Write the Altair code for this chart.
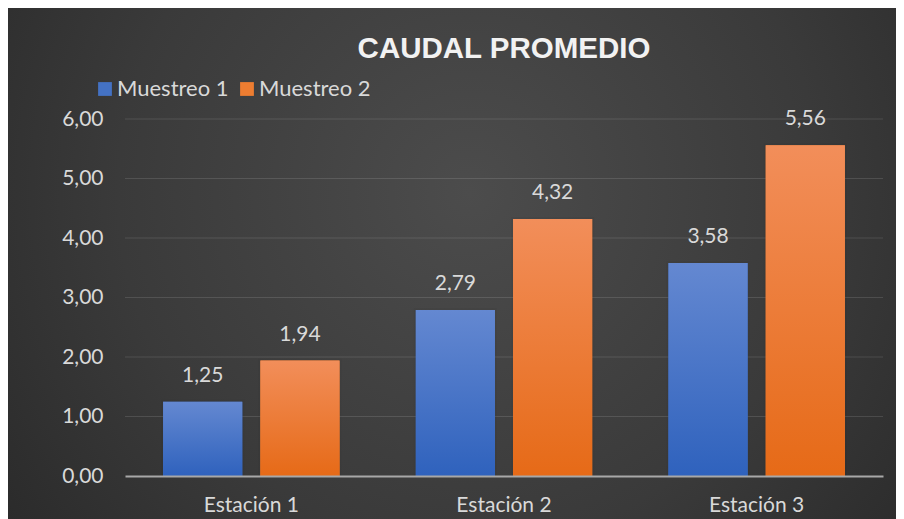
import altair as alt
import pandas as pd

estaciones = ["Estación 1", "Estación 2", "Estación 3"]
series = ["Muestreo 1", "Muestreo 2"]
muestreo1 = [1.25, 2.79, 3.58]
muestreo2 = [1.94, 4.32, 5.56]
y_ticks = [1, 2, 3, 4, 5, 6]

rows = []
for i, e in enumerate(estaciones):
    rows.append({"estacion": e, "serie": series[0], "valor": muestreo1[i]})
    rows.append({"estacion": e, "serie": series[1], "valor": muestreo2[i]})
df = pd.DataFrame(rows)
grid_df = pd.DataFrame({"v": y_ticks})
bg_df = pd.DataFrame({"a": [0]})

PW, PH = 758, 357
PAD = {"left": 117, "top": 111, "right": 13, "bottom": 43}
FONT = "Lato"
LABEL = "#d9d9d9"

fmt_expr = "replace(format(datum.value, '.2f'), '.', ',')"

bg_grad = alt.Gradient(
    gradient="radial",
    stops=[alt.GradientStop(color="#4c4c4c", offset=0),
           alt.GradientStop(color="#3a3a3a", offset=0.55),
           alt.GradientStop(color="#262626", offset=1)],
    x1=0.52, y1=0.42, r1=0, x2=0.52, y2=0.42, r2=0.72,
)
blue_grad = {"gradient": "linear", "x1": 0, "y1": 0, "x2": 0, "y2": 1,
             "stops": [{"offset": 0, "color": "#6488d1"}, {"offset": 1, "color": "#2f62bd"}]}
orange_grad = {"gradient": "linear", "x1": 0, "y1": 0, "x2": 0, "y2": 1,
               "stops": [{"offset": 0, "color": "#f28e5a"}, {"offset": 1, "color": "#e66a17"}]}

background = alt.Chart(bg_df).mark_rect(fill=bg_grad).encode(
    x=alt.value(-PAD["left"]), x2=alt.value(PW + PAD["right"]),
    y=alt.value(-PAD["top"]), y2=alt.value(PH + PAD["bottom"]),
)

yscale = alt.Scale(domain=[0, 6])

grid = alt.Chart(grid_df).mark_rule(color="#ffffff", opacity=0.12, strokeWidth=1).encode(
    y=alt.Y("v:Q", scale=yscale),
)

x_enc = alt.X(
    "estacion:N", sort=estaciones, title=None,
    scale=alt.Scale(paddingInner=0, paddingOuter=0),
    axis=alt.Axis(labelAngle=0, ticks=False, domain=True, domainColor="#a8a8a8",
                  domainWidth=2, grid=False, labelFont=FONT, labelFontSize=21,
                  labelColor=LABEL, labelPadding=18, zindex=1),
)
xoff_enc = alt.XOffset("serie:N", sort=series,
                       scale=alt.Scale(paddingInner=0.186, paddingOuter=0.392))
y_enc = alt.Y(
    "valor:Q", scale=yscale, title=None,
    axis=alt.Axis(values=[0, 1, 2, 3, 4, 5, 6], ticks=False, domain=False, grid=False,
                  labelFont=FONT, labelFontSize=21, labelColor=LABEL, labelPadding=22,
                  labelExpr=fmt_expr, zindex=1),
)

base = alt.Chart(df).encode(x=x_enc, xOffset=xoff_enc, y=y_enc)

legend_bars = base.mark_bar().encode(
    color=alt.Color(
        "serie:N", sort=series,
        scale=alt.Scale(domain=series, range=["#4472c4", "#ed7d31"]),
        legend=alt.Legend(
            title=None, orient="none", direction="horizontal",
            legendX=-31, legendY=-41, symbolType="square", symbolSize=190,
            symbolStrokeWidth=0, labelFont=FONT, labelFontSize=22,
            labelColor=LABEL, labelOffset=1, columnPadding=7, padding=0,
            symbolOpacity=1,
        ),
    )
)

shadow = base.mark_bar(fill="#000000", opacity=0.18, stroke="#000000",
                       strokeWidth=4, strokeOpacity=0.15)

grad_bars = base.mark_bar().encode(
    fill=alt.condition("datum.serie == 'Muestreo 1'", alt.value(blue_grad), alt.value(orange_grad)),
)

labels = base.mark_text(baseline="bottom", dy=-16, font=FONT, fontSize=21, color=LABEL).transform_calculate(
    etiqueta="replace(format(datum.valor, '.2f'), '.', ',')"
).encode(text="etiqueta:N")

chart = alt.layer(background, grid, shadow, legend_bars, grad_bars, labels).properties(
    width=PW, height=PH,
    title=alt.TitleParams("CAUDAL PROMEDIO", font="Liberation Sans", fontSize=29.5,
                          fontWeight="bold", color="#f2f2f2", anchor="middle",
                          baseline="alphabetic", offset=0, dy=79),
    autosize=alt.AutoSizeParams(type="none"),
    padding=PAD,
).configure_view(stroke=None).configure(background="#262626")

chart.save("out.html", embed_options={"renderer": "svg", "actions": False})
